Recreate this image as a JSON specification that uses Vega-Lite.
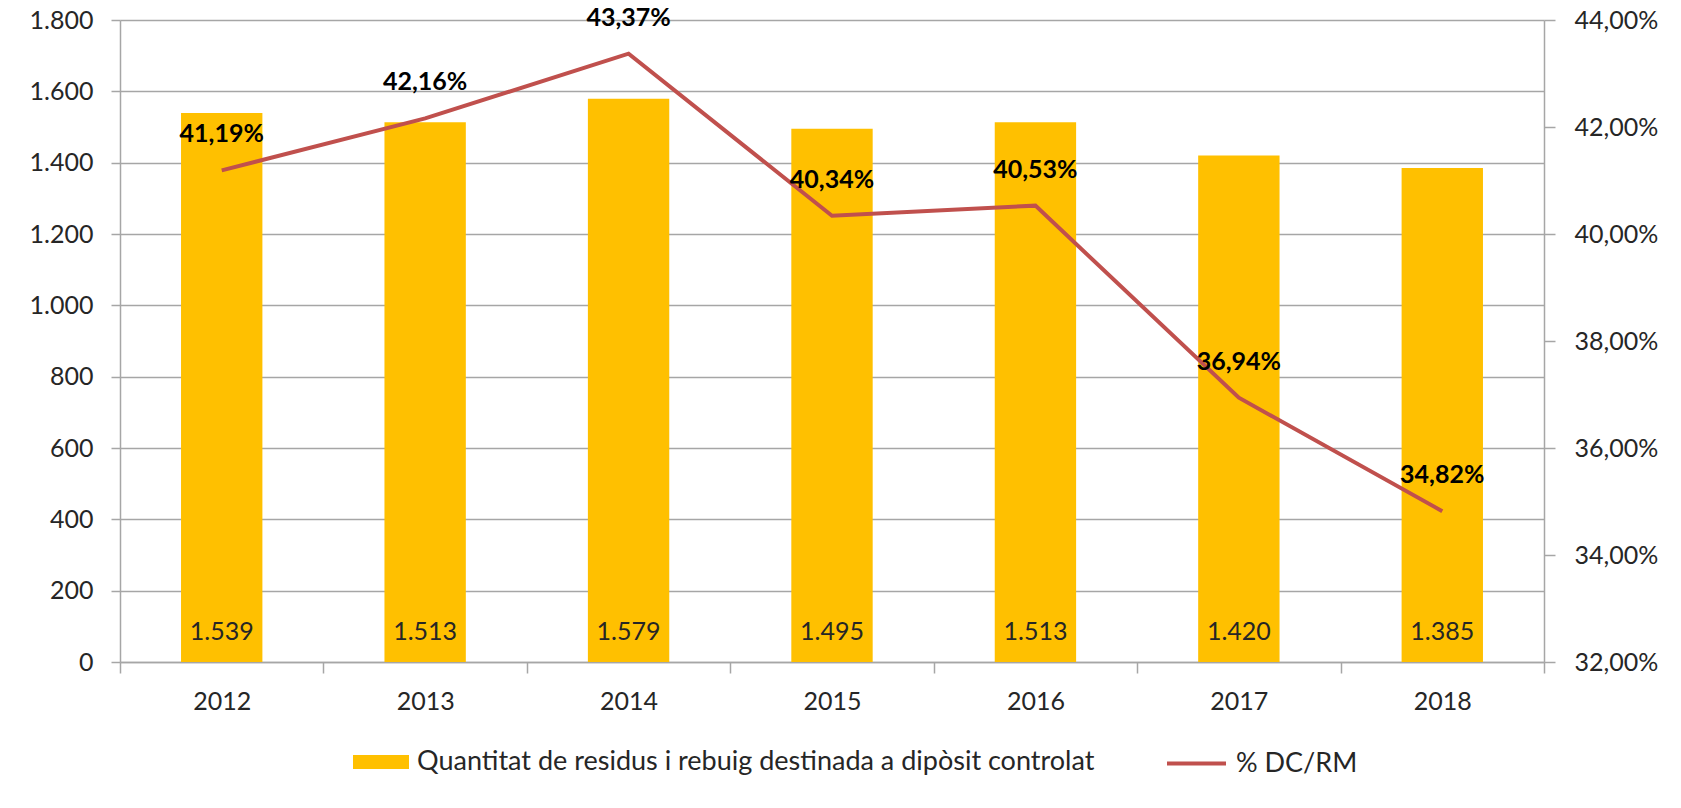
{
  "$schema": "https://vega.github.io/schema/vega-lite/v6.json",
  "width": 1424,
  "height": 642,
  "autosize": {"type": "none"},
  "padding": {"left": 120, "top": 20, "right": 137, "bottom": 146},
  "background": "white",
  "config": {
    "locale": {"number": {"decimal": ",", "thousands": ".", "grouping": [3], "currency": ["", " €"]}},
    "font": "Lato",
    "view": {"stroke": null},
    "axis": {
      "labelFont": "Lato",
      "labelFontSize": 25,
      "labelColor": "#262626",
      "domainColor": "#a6a6a6",
      "tickColor": "#a6a6a6",
      "gridColor": "#a6a6a6",
      "domainWidth": 1.5,
      "tickWidth": 1.5,
      "gridWidth": 1.5,
      "title": null
    },
    "legend": {
      "labelFont": "Lato",
      "labelFontSize": 27,
      "labelColor": "#262626",
      "labelLimit": 1000,
      "title": null
    }
  },
  "data": {
    "values": [
      {"year": "2012", "tones": 1539, "pct": 0.4119},
      {"year": "2013", "tones": 1513, "pct": 0.4216},
      {"year": "2014", "tones": 1579, "pct": 0.4337},
      {"year": "2015", "tones": 1495, "pct": 0.4034},
      {"year": "2016", "tones": 1513, "pct": 0.4053},
      {"year": "2017", "tones": 1420, "pct": 0.3694},
      {"year": "2018", "tones": 1385, "pct": 0.3482}
    ]
  },
  "encoding": {
    "x": {
      "field": "year",
      "type": "ordinal",
      "scale": {"paddingInner": 0, "paddingOuter": 0},
      "axis": {"labelAngle": 0, "tickBand": "extent", "tickSize": 11, "labelPadding": 16, "grid": false}
    }
  },
  "layer": [
    {
      "layer": [
        {
          "mark": {"type": "bar", "width": {"band": 0.4}},
          "encoding": {
            "y": {
              "field": "tones",
              "type": "quantitative",
              "scale": {"domain": [0, 1800], "nice": false},
              "axis": {"orient": "left", "values": [0, 200, 400, 600, 800, 1000, 1200, 1400, 1600, 1800], "format": ",.0f", "grid": true, "tickSize": 9, "labelPadding": 18}
            },
            "fill": {
              "datum": "Quantitat de residus i rebuig destinada a dipòsit controlat",
              "scale": {"range": ["#FFC000"]},
              "legend": {
                "orient": "none",
                "legendX": 233,
                "legendY": 714,
                "symbolType": "M-1,-0.25H1V0.25H-1Z",
                "symbolSize": 3136,
                "symbolStrokeWidth": 0,
                "labelOffset": 8
              }
            }
          }
        },
        {
          "mark": {"type": "text", "dy": -30, "baseline": "middle", "align": "center", "fontSize": 25, "color": "#262626"},
          "encoding": {
            "y": {"datum": 0},
            "text": {"field": "tones", "type": "quantitative", "format": ",.0f"}
          }
        }
      ]
    },
    {
      "layer": [
        {
          "mark": {"type": "line", "strokeWidth": 4},
          "encoding": {
            "y": {
              "field": "pct",
              "type": "quantitative",
              "scale": {"domain": [0.32, 0.44], "nice": false, "zero": false},
              "axis": {"orient": "right", "values": [0.32, 0.34, 0.36, 0.38, 0.40, 0.42, 0.44], "format": ".2%", "grid": false, "tickSize": 11, "labelPadding": 19}
            },
            "stroke": {
              "datum": "% DC/RM",
              "scale": {"range": ["#C0504D"]},
              "legend": {
                "orient": "none",
                "legendX": 1045,
                "legendY": 712,
                "symbolType": "stroke",
                "symbolSize": 3481,
                "symbolStrokeWidth": 4,
                "labelOffset": 8
              }
            }
          }
        },
        {
          "mark": {"type": "text", "dy": -36, "baseline": "middle", "align": "center", "fontSize": 25, "fontWeight": "bold", "color": "#000000"},
          "encoding": {
            "y": {"field": "pct", "type": "quantitative"},
            "text": {"field": "pct", "type": "quantitative", "format": ".2%"}
          }
        }
      ]
    }
  ],
  "resolve": {"scale": {"y": "independent"}}
}
